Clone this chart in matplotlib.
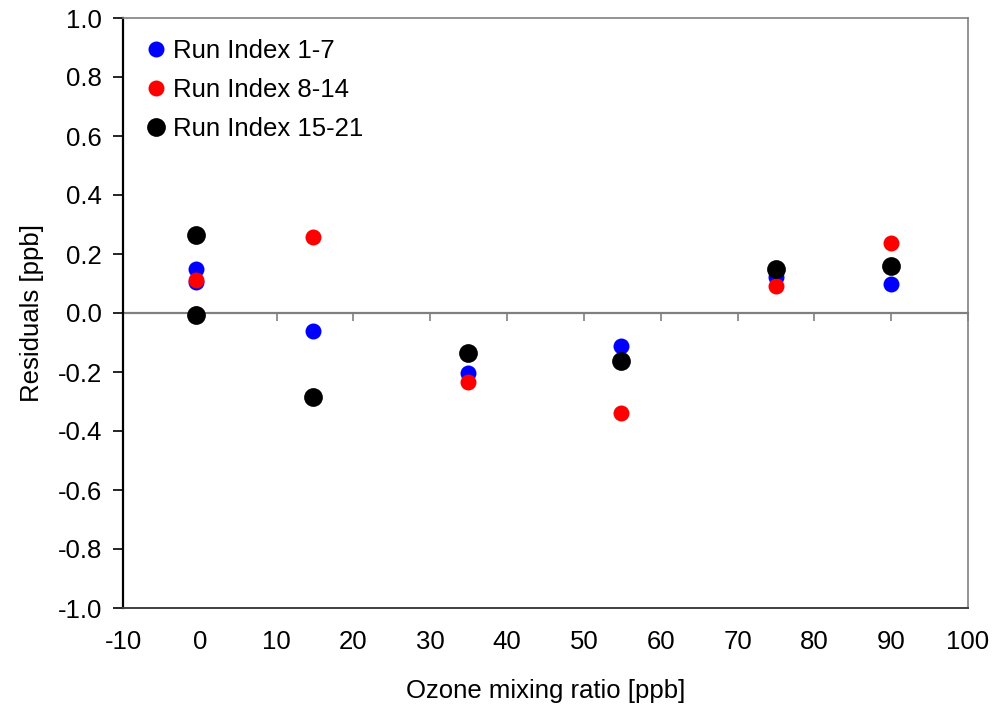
import matplotlib
matplotlib.use("Agg")
import matplotlib.pyplot as plt

plt.rcParams['font.family'] = ['Liberation Sans', 'DejaVu Sans']
plt.rcParams['axes.unicode_minus'] = False

# Data
ozone = [-0.5, -0.5, 14.7, 34.9, 54.8, 75.0, 90.0]
run_1_7 = [0.148, 0.105, -0.060, -0.204, -0.112, 0.121, 0.098]
run_8_14 = [0.112, -0.005, 0.259, -0.233, -0.338, 0.092, 0.238]
run_15_21 = [0.264, -0.008, -0.286, -0.134, -0.162, 0.148, 0.159]
labels = ["Run Index 1-7", "Run Index 8-14", "Run Index 15-21"]
xticks = list(range(-10, 101, 10))
yticks = [-1.0, -0.8, -0.6, -0.4, -0.2, 0.0, 0.2, 0.4, 0.6, 0.8, 1.0]

FS = 18.5

fig = plt.figure(figsize=(9.95, 7.11), dpi=100)
ax = fig.add_axes([123/995, 1-608/711, (968-123)/995, (608-18)/711])

ax.plot(ozone, run_1_7, 'o', color='#0000ff', ms=11.5, mec='none', label=labels[0], zorder=3, clip_on=False)
ax.plot(ozone, run_8_14, 'o', color='#ff0000', ms=11.5, mec='none', label=labels[1], zorder=4, clip_on=False)
ax.plot(ozone, run_15_21, 'o', color='black', ms=13.5, mec='none', label=labels[2], zorder=5, clip_on=False)

ax.set_xlim(-10, 100)
ax.set_ylim(-1.0, 1.0)
ax.set_xticks(xticks)
ax.set_yticks(yticks)
ax.set_yticklabels([f"{v:.1f}" for v in yticks])

ax.tick_params(axis='x', length=0, labelsize=FS, pad=16)
ax.tick_params(axis='y', direction='out', length=7, width=1.2, labelsize=FS, pad=8)

for s in ['top', 'right']:
    ax.spines[s].set_color('#808080')
    ax.spines[s].set_linewidth(1.2)
ax.spines['left'].set_color('black')
ax.spines['left'].set_linewidth(1.6)
ax.spines['bottom'].set_color('#404040')
ax.spines['bottom'].set_linewidth(1.4)

# zero line with tick marks pointing down
sec = ax.secondary_xaxis(0.5)
sec.set_xticks(xticks)
sec.xaxis.set_ticks_position('bottom')
sec.tick_params(axis='x', which='both', direction='out', length=6, width=1.2,
                color='#808080', labelbottom=False, labeltop=False, top=False, bottom=True)
for sp in sec.spines.values():
    sp.set_color('#808080')
    sp.set_linewidth(1.6)

ax.set_xlabel("Ozone mixing ratio [ppb]", fontsize=FS, labelpad=18)
ax.set_ylabel("Residuals [ppb]", fontsize=FS, labelpad=10)

leg = ax.legend(loc='upper left', frameon=False, fontsize=FS, handletextpad=0.15,
                handlelength=1.0, labelspacing=0.6, borderaxespad=0.4,
                bbox_to_anchor=(0.0, 1.0))

fig.savefig("out.png", dpi=100)
